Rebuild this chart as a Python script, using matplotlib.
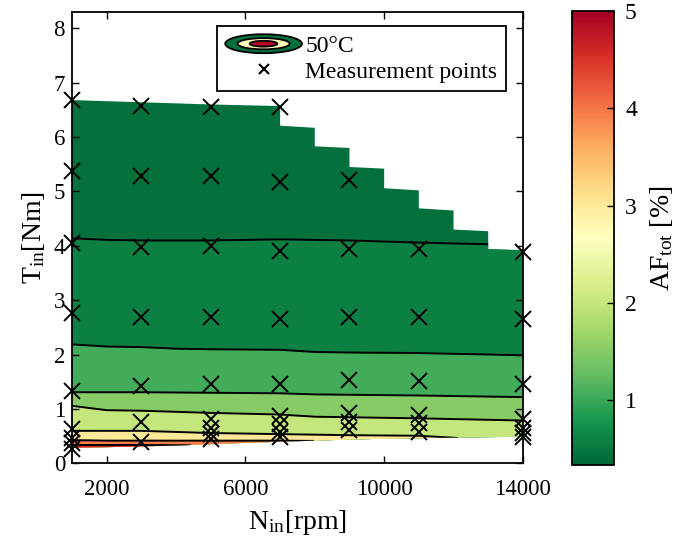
import matplotlib
matplotlib.use("Agg")
import matplotlib.pyplot as plt
import numpy as np
from matplotlib.patches import Polygon, Ellipse
from matplotlib.lines import Line2D
from matplotlib.legend_handler import HandlerBase
from matplotlib.colors import Normalize
from matplotlib.cm import ScalarMappable

plt.rcParams['font.family'] = ['Liberation Serif', 'DejaVu Serif']
plt.rcParams['mathtext.default'] = 'regular'

# ---------------- data ----------------
# upper boundary of the evaluated region (staircase), N [rpm], T [Nm]
top_N = [1000, 3000, 5000, 7000, 7000, 8000, 8000, 9000, 9000, 10000, 10000, 11000, 11000, 12000, 12000, 13000, 13000, 14000]
top_T = [6.68, 6.64, 6.60, 6.57, 6.21, 6.17, 5.83, 5.80, 5.45, 5.42, 5.06, 5.02, 4.69, 4.65, 4.30, 4.27, 3.94, 3.92]
# lower boundary of the evaluated region
bot_N = [1000, 2000, 3000, 4000, 5000, 6000, 7000, 8000, 9000, 10000, 11000, 12000, 13000, 14000]
bot_T = [0.29, 0.30, 0.315, 0.33, 0.355, 0.38, 0.40, 0.42, 0.44, 0.455, 0.465, 0.475, 0.485, 0.49]

# contour lines (iso-AF lines), from lowest AF (top) to highest AF (bottom)
c1_N = [1000, 2000, 3000, 5000, 7000, 9000, 11000, 13000, 14000]
c1_T = [4.14, 4.11, 4.10, 4.10, 4.12, 4.10, 4.06, 4.03, 4.00]
c2_N = [1000, 2000, 3000, 4000, 5000, 7000, 8000, 9000, 11000, 14000]
c2_T = [2.19, 2.15, 2.14, 2.11, 2.10, 2.09, 2.05, 2.04, 2.03, 1.99]
c3_N = [1000, 3000, 5000, 7000, 8000, 11000, 14000]
c3_T = [1.31, 1.31, 1.30, 1.29, 1.27, 1.25, 1.22]
c4_N = [1000, 2000, 3000, 5000, 7000, 8000, 9000, 11000, 14000]
c4_T = [1.06, 0.98, 0.97, 0.93, 0.90, 0.86, 0.85, 0.83, 0.79]
c5_N = [1000, 3000, 5000, 7000, 9000, 11000, 12100]
c5_T = [0.60, 0.60, 0.56, 0.54, 0.52, 0.51, 0.47]
c6_N = [1000, 2000, 3000, 5000, 7000, 7950]
c6_T = [0.43, 0.42, 0.42, 0.42, 0.42, 0.415]
c7_N = [1000, 2000, 3000, 4400]
c7_T = [0.34, 0.34, 0.34, 0.335]

# AF value represented by each filled band (top band first)
band_AF = [0.42, 0.55, 1.05, 1.5, 2.0, 3.0, 3.95, 4.6]

# measurement points
meas = {
    1000: [6.69, 5.38, 4.06, 2.76, 1.33, 0.63, 0.47, 0.37, 0.27],
    3000: [6.58, 5.29, 3.98, 2.69, 1.42, 0.76, 0.40],
    5000: [6.55, 5.28, 3.99, 2.70, 1.46, 0.82, 0.66, 0.55, 0.45],
    7000: [6.56, 5.18, 3.90, 2.66, 1.47, 0.88, 0.72, 0.58, 0.48],
    9000: [5.21, 3.94, 2.69, 1.54, 0.92, 0.77, 0.62],
    11000: [3.94, 2.70, 1.51, 0.89, 0.74, 0.58],
    14000: [3.89, 2.65, 1.47, 0.82, 0.66, 0.56, 0.48],
}

af_min, af_max = 0.33, 5.0
cbar_ticks = [1, 2, 3, 4, 5]
x_ticks = [2000, 6000, 10000, 14000]
y_ticks = [0, 1, 2, 3, 4, 5, 6, 7, 8]

# ---------------- figure ----------------
cmap = plt.get_cmap('RdYlGn_r')
norm = Normalize(af_min, af_max)

fig = plt.figure(figsize=(6.76, 5.44), dpi=100)
ax = fig.add_axes([0.1065, 0.148, 0.667, 0.830])
cax = fig.add_axes([0.8457, 0.1452, 0.0625, 0.834])

region_xy = np.column_stack([top_N + bot_N[::-1], top_T + bot_T[::-1]])
region = Polygon(region_xy, closed=True, facecolor=cmap(norm(band_AF[0])),
                 edgecolor='none', zorder=1)
ax.add_patch(region)

lines = [(c1_N, c1_T), (c2_N, c2_T), (c3_N, c3_T), (c4_N, c4_T),
         (c5_N, c5_T), (c6_N, c6_T), (c7_N, c7_T)]
for k, (ln, lt) in enumerate(lines):
    fb = ax.fill_between(ln, 0, lt, color=cmap(norm(band_AF[k + 1])),
                         linewidth=0, zorder=1 + 0.01 * (k + 1))
    fb.set_clip_path(region)
for ln, lt in lines:
    l, = ax.plot(ln, lt, color='k', lw=1.4, zorder=3)
    l.set_clip_path(region)

for n, ts in meas.items():
    ax.plot([n] * len(ts), ts, ls='none', marker='x', color='k',
            markersize=12, mew=1.4, zorder=4, clip_on=False)

ax.set_xlim(1000, 14000)
ax.set_ylim(0, 8.3)
ax.set_xticks(x_ticks)
ax.set_yticks(y_ticks)
ax.tick_params(direction='in', top=True, right=True, length=5, width=1,
               labelsize=16.5)
ax.tick_params(axis='x', pad=11)
ax.tick_params(axis='y', pad=5)
for s in ax.spines.values():
    s.set_linewidth(1.3)
ax.set_xlabel(r'N$_{in}$[rpm]', fontsize=20, labelpad=6)
ax.set_ylabel(r'T$_{in}$[Nm]', fontsize=20, labelpad=5)


class ContourIcon:
    pass


class ContourHandler(HandlerBase):
    def create_artists(self, legend, orig_handle, xdescent, ydescent,
                       width, height, fontsize, trans):
        cx = width / 2 - xdescent
        cy = height / 2 - ydescent
        arts = []
        for fw, fh, val in [(1.0, 1.05, band_AF[0]), (0.68, 0.62, 2.7),
                            (0.36, 0.32, 4.9)]:
            e = Ellipse((cx, cy), width * fw, height * fh,
                        facecolor=cmap(norm(val)), edgecolor='k', lw=1.3,
                        transform=trans)
            arts.append(e)
        return arts


icon = ContourIcon()
mhandle = Line2D([], [], ls='none', marker='x', color='k', markersize=7, mew=1.5)
leg = ax.legend([icon, mhandle], ['50°C', 'Measurement points'],
                handler_map={ContourIcon: ContourHandler()},
                loc='upper right', bbox_to_anchor=(0.962, 0.968),
                fontsize=17, handlelength=3.25, handleheight=0.8,
                handletextpad=0.15, borderpad=0.35, labelspacing=0.15,
                fancybox=False, framealpha=1, edgecolor='k', borderaxespad=0)
leg.get_frame().set_linewidth(1.3)
leg.set_zorder(5)

sm = ScalarMappable(norm=norm, cmap=cmap)
cb = fig.colorbar(sm, cax=cax, ticks=cbar_ticks)
cb.outline.set_linewidth(1.3)
cax.tick_params(direction='in', length=5, width=1, labelsize=17, pad=8)
cb.set_label(r'AF$_{tot}$ [%]', fontsize=20, labelpad=8)

fig.savefig('out.png', dpi=100)
